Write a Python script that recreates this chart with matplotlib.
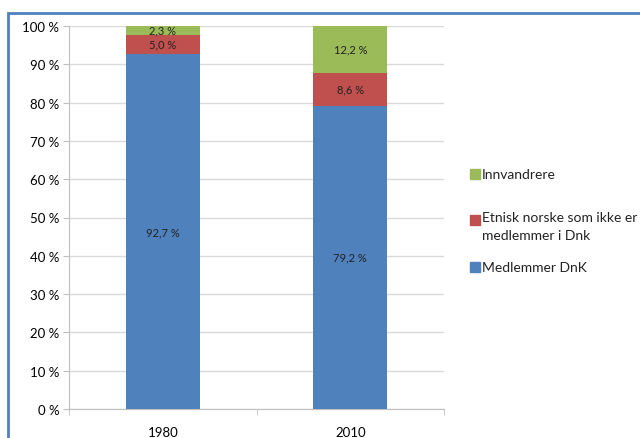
import matplotlib
matplotlib.use("Agg")
import matplotlib.pyplot as plt
from matplotlib.patches import Rectangle

plt.rcParams['font.family'] = ['Lato', 'DejaVu Sans']

categories = ["1980", "2010"]
series_names = ["Medlemmer DnK", "Etnisk norske som ikke er\nmedlemmer i Dnk", "Innvandrere"]
medlemmer = [92.7, 79.2]
etnisk = [5.0, 8.6]
innvandrere = [2.3, 12.2]
colors = ["#4F81BD", "#C0504D", "#9BBB59"]
yticks = [0, 10, 20, 30, 40, 50, 60, 70, 80, 90, 100]

fig = plt.figure(figsize=(6.4, 4.39), dpi=100)
ax = fig.add_axes([69/640, 1-410/439, (444-69)/640, (410-27)/439])

x = list(range(len(categories)))
width = 0.395
bottom = [0.0]*len(categories)
for vals, c in zip([medlemmer, etnisk, innvandrere], colors):
    ax.bar(x, vals, width=width, bottom=bottom, color=c, zorder=3)
    for xi, v, bt in zip(x, vals, bottom):
        ax.text(xi, bt + v/2, f"{v:.1f} %".replace(".", ","), ha="center", va="center",
                fontsize=8, color="#222222", zorder=4)
    bottom = [bt + v for bt, v in zip(bottom, vals)]

ax.set_xlim(-0.5, 1.5)
ax.set_ylim(0, 100)
ax.set_yticks(yticks)
ax.set_yticklabels([f"{t} %" for t in yticks], fontsize=9.5)
ax.set_xticks(x)
ax.set_xticklabels(categories, fontsize=9.5)
ax.set_xticks([-0.5, 0.5, 1.5], minor=True)
ax.tick_params(axis="x", which="major", length=0, pad=12)
ax.tick_params(axis="x", which="minor", length=4, color="#BFBFBF")
ax.tick_params(axis="y", length=4, color="#BFBFBF", pad=3)
ax.grid(axis="y", color="#D9D9D9", linewidth=1, zorder=0)
for s in ["top", "right"]:
    ax.spines[s].set_visible(False)
for s in ["left", "bottom"]:
    ax.spines[s].set_color("#BFBFBF")

# legend (manual, marker aligned with first text line as in the reference)
legend_items = [(series_names[2], colors[2], 175), (series_names[1], colors[1], 221),
                (series_names[0], colors[0], 268)]
for label, c, ypx in legend_items:
    yf = 1 - ypx/439
    fig.patches.append(Rectangle((470/640, yf - 5/439), 10/640, 10/439,
                                 transform=fig.transFigure, color=c))
    if "\n" in label:
        fig.text(482/640, yf + 9/439, label, ha="left", va="top", fontsize=10,
                 color="#222222", linespacing=1.55)
    else:
        fig.text(482/640, yf, label, ha="left", va="center", fontsize=10,
                 color="#222222")

fig.patches.append(Rectangle((8/640, -0.05), 1.0, 1-14/439+0.05, transform=fig.transFigure,
                             fill=False, edgecolor="#4F81BD", linewidth=2, zorder=0))

fig.savefig("out.png", dpi=100)
